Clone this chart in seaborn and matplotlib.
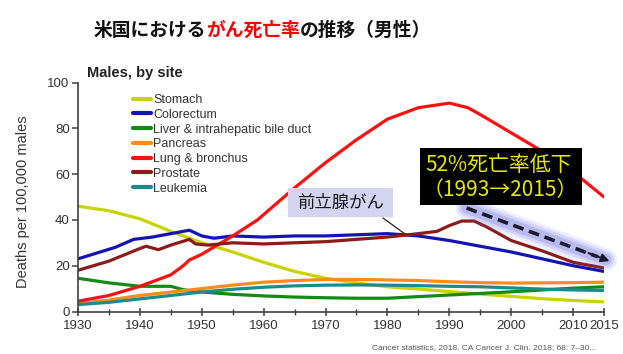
import matplotlib
matplotlib.use("Agg")
import matplotlib.pyplot as plt
from matplotlib.lines import Line2D
from matplotlib.patches import Rectangle
import numpy as np
import pandas as pd
import seaborn as sns

# ---- data: age-adjusted male cancer death rates per 100,000 ----
sites = ["Stomach", "Colorectum", "Liver & intrahepatic bile duct", "Pancreas",
         "Lung & bronchus", "Prostate", "Leukemia"]
site_colors = ["#c8d400", "#1414b4", "#138a13", "#ff8c1a", "#ff1010", "#8b1c1c", "#1a8c8c"]

stomach_years = [1930, 1935, 1940, 1945, 1950, 1955, 1960, 1965, 1970, 1975, 1980, 1985,
                 1990, 1995, 2000, 2005, 2010, 2015]
stomach_rates = [46, 44, 40.5, 35, 30, 26, 21.5, 17.5, 14.5, 12.5, 10.8, 9.8,
                 8.7, 7.6, 6.6, 5.6, 4.8, 4.2]

colorectum_years = [1930, 1933, 1936, 1939, 1942, 1945, 1948, 1950, 1952, 1955, 1960, 1965,
                    1970, 1975, 1980, 1985, 1990, 1995, 2000, 2005, 2010, 2015]
colorectum_rates = [23, 25.5, 28, 31.5, 32.5, 34, 35.5, 33, 32, 33, 32.5, 33,
                    33, 33.5, 34, 33, 31, 28.5, 26, 23, 20, 17.5]

liver_years = [1930, 1935, 1940, 1945, 1947, 1950, 1955, 1960, 1965, 1970, 1975, 1980,
               1985, 1990, 1995, 2000, 2005, 2010, 2015]
liver_rates = [14.5, 12.5, 11, 11, 9.5, 8.5, 7.5, 6.8, 6.3, 6, 5.8, 5.8,
               6.5, 7.2, 7.9, 8.6, 9.4, 10.2, 10.8]

pancreas_years = [1930, 1935, 1940, 1945, 1950, 1955, 1960, 1965, 1970, 1975, 1980, 1985,
                  1990, 1995, 2000, 2005, 2010, 2015]
pancreas_rates = [3.5, 5, 7, 8.5, 10, 11.5, 12.8, 13.5, 14, 14, 13.8, 13.5,
                  13, 12.6, 12.4, 12.5, 12.6, 12.8]

lung_years = [1930, 1935, 1940, 1945, 1947, 1948, 1950, 1955, 1959, 1962, 1965, 1970,
              1975, 1980, 1985, 1990, 1993, 1995, 2000, 2005, 2010, 2015]
lung_rates = [4.5, 7, 11, 16, 20, 22.5, 25, 33, 40, 47, 54, 65,
              75, 84, 89, 91, 89, 86, 78, 70, 61, 50]

prostate_years = [1930, 1935, 1940, 1941, 1943, 1945, 1948, 1949, 1951, 1955, 1960, 1965,
                  1970, 1975, 1980, 1985, 1988, 1990, 1992, 1994, 1996, 2000, 2005, 2010, 2015]
prostate_rates = [18, 22, 27.5, 28.5, 27, 29, 31.5, 29.5, 29, 30, 29.5, 30,
                  30.5, 31.5, 32.5, 34, 35, 37.5, 39.5, 39.5, 37, 31, 26.5, 21.5, 19]

leukemia_years = [1930, 1935, 1940, 1945, 1950, 1955, 1960, 1965, 1970, 1975, 1980, 1985,
                  1990, 1995, 2000, 2005, 2010, 2015]
leukemia_rates = [3, 4, 5.5, 7, 8.5, 9.7, 10.6, 11.2, 11.5, 11.6, 11.5, 11.3,
                  11, 10.8, 10.3, 9.8, 9.4, 9.2]

x_major_ticks = [1930, 1940, 1950, 1960, 1970, 1980, 1990, 2000, 2010, 2015]
x_minor_ticks = [1935, 1945, 1955, 1965, 1975, 1985, 1995, 2005]
y_ticks = [0, 20, 40, 60, 80, 100]

series = [
    (stomach_years, stomach_rates),
    (colorectum_years, colorectum_rates),
    (liver_years, liver_rates),
    (pancreas_years, pancreas_rates),
    (lung_years, lung_rates),
    (prostate_years, prostate_rates),
    (leukemia_years, leukemia_rates),
]
df = pd.concat(
    [pd.DataFrame({"year": yrs, "rate": vals, "site": name})
     for name, (yrs, vals) in zip(sites, series)],
    ignore_index=True,
)

# ---- style ----
sns.set_style("ticks")
plt.rcParams["font.family"] = ["Liberation Sans", "Noto Sans CJK JP"]
JP = ["Noto Sans CJK JP", "Liberation Sans"]

W, H = 623, 354
fig = plt.figure(figsize=(W / 100, H / 100), dpi=100)


def fx(x):
    return x / W


def fy(y):
    return 1 - y / H


ax = fig.add_axes([fx(78), fy(311.5), fx(604) - fx(78), fy(82.5) - fy(311.5)])

palette = dict(zip(sites, site_colors))
sns.lineplot(data=df, x="year", y="rate", hue="site", hue_order=sites, palette=palette,
             estimator=None, sort=True, linewidth=2.3, legend=False, ax=ax)

ax.set_xlim(1930, 2015)
ax.set_ylim(0, 100)
ax.set_xticks(x_major_ticks)
ax.set_xticks(x_minor_ticks, minor=True)
ax.set_xticklabels([str(t) for t in x_major_ticks])
ax.set_yticks(y_ticks)
ax.set_xlabel("")
ax.set_ylabel("")
sns.despine(ax=ax)
for s in ("left", "bottom"):
    ax.spines[s].set_color("#404040")
    ax.spines[s].set_linewidth(1.2)
ax.tick_params(axis="x", which="major", direction="inout", length=6, width=1.1,
               colors="#404040", labelsize=9.5, labelcolor="#333333", pad=3)
ax.tick_params(axis="x", which="minor", direction="inout", length=4, width=1.0,
               colors="#404040")
ax.tick_params(axis="y", direction="out", length=4, width=1.1, colors="#404040",
               labelsize=9.5, labelcolor="#333333", pad=2)

# axis caption and panel heading
fig.text(fx(23), fy(202), "Deaths per 100,000 males", rotation=90, ha="center",
         va="center", fontsize=10.5, color="#333333")
fig.text(fx(87), fy(73), "Males, by site", ha="left", va="center", fontsize=10.5,
         fontweight="bold", color="#222222")

# legend
handles = [Line2D([0], [0], color=c, lw=3) for c in site_colors]
ax.legend(handles, sites, loc="upper left", bbox_to_anchor=(fx(133), fy(94)),
          bbox_transform=fig.transFigure, frameon=False, fontsize=9,
          handlelength=1.4, handletextpad=0.2, labelspacing=0.22,
          borderpad=0, borderaxespad=0, labelcolor="#333333")

# dashed decline arrow with soft glow
ax_x = [1992.8, 2015.3]
ax_y = [45.2, 22.6]
for lw, a in [(16, 0.12), (12, 0.18), (8, 0.25)]:
    ax.plot(ax_x, ax_y, color="#6a6ae6", lw=lw, alpha=a, solid_capstyle="round",
            clip_on=False, zorder=5)
ax.plot([ax_x[0], 2014.0], [ax_y[0], 23.9], color="#1a1a2a", lw=2.6, ls=(0, (3, 1.6)),
        clip_on=False, zorder=6)
ax.annotate("", xy=(ax_x[1] + 0.6, ax_y[1] - 0.6), xytext=(2012.5, 25.5),
            arrowprops=dict(arrowstyle="-|>", color="#1a1a2a", lw=1.5,
                            mutation_scale=12, shrinkA=0, shrinkB=0),
            annotation_clip=False, zorder=6)

# prostate callout
fig.patches.append(Rectangle((fx(288), fy(217)), fx(393) - fx(288), fy(188) - fy(217),
                             transform=fig.transFigure, facecolor="#d4d4f0",
                             edgecolor="none", zorder=10))
fig.text(fx(340.5), fy(202.5), "前立腺がん", family=JP, fontsize=12.5, color="#1a1a1a",
         ha="center", va="center", zorder=11)
fig.lines.append(Line2D([fx(383), fx(405)], [fy(218), fy(234)], transform=fig.transFigure,
                        color="#222222", lw=0.9, zorder=11))

# decline callout
fig.patches.append(Rectangle((fx(420), fy(205)), fx(582) - fx(420), fy(148) - fy(205),
                             transform=fig.transFigure, facecolor="black",
                             edgecolor="none", zorder=10))
fig.text(fx(425), fy(165), "52%死亡率低下", family=JP, fontsize=15, color="#e8e800",
         ha="left", va="center", zorder=11)
fig.text(fx(423), fy(190), "（1993→2015）", family=JP, fontsize=15, color="#e8e800",
         ha="left", va="center", zorder=11)

# source note
fig.text(fx(372), fy(348), "Cancer statistics, 2018. CA Cancer J. Clin. 2018; 68: 7–30...",
         fontsize=6, color="#555555", ha="left", va="center")

# title with the highlighted phrase in red
parts = [("米国における", "#111111"), ("がん死亡率", "#ff0000"), ("の推移（男性）", "#111111")]
texts = [fig.text(0, fy(30), s, family=JP, fontsize=13.5, fontweight="bold", color=c,
                  ha="left", va="center") for s, c in parts]
fig.canvas.draw()
renderer = fig.canvas.get_renderer()
widths = [t.get_window_extent(renderer).width for t in texts]
x0 = 262 - sum(widths) / 2
for t, w in zip(texts, widths):
    t.set_x(fx(x0))
    x0 += w

fig.savefig("out.png", dpi=100)
